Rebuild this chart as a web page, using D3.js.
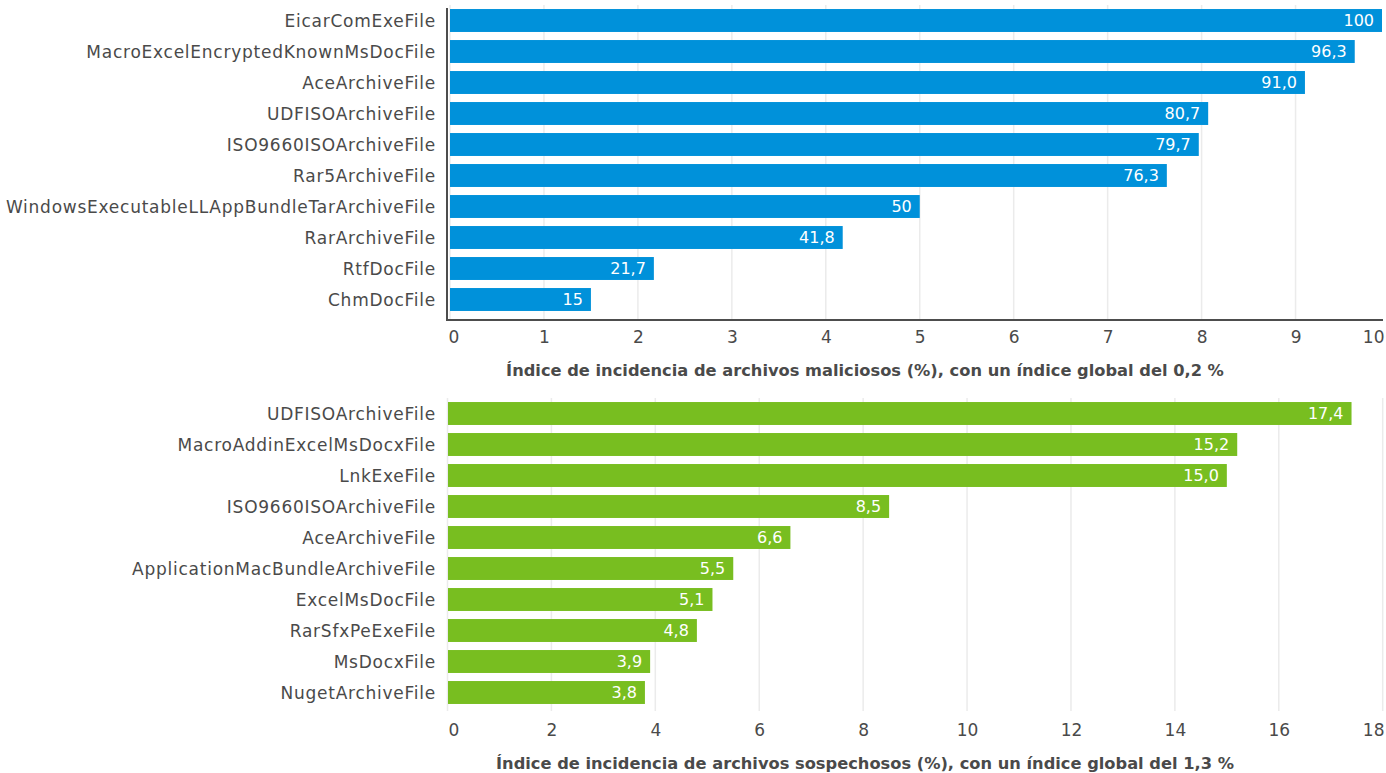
<!DOCTYPE html>
<html lang="es">
<head>
<meta charset="utf-8">
<script src="https://cdn.jsdelivr.net/npm/d3@7/dist/d3.min.js"></script>
<style>
  html, body { margin: 0; padding: 0; background: #ffffff; }
  svg { display: block; }
  svg text { font-family: "DejaVu Sans", sans-serif; }
</style>
</head>
<body>
<svg id="chart" width="1386" height="773"></svg>
<script>
// Malicious file incidence (top panel)
const maliciousCategories = [
  "EicarComExeFile", "MacroExcelEncryptedKnownMsDocFile", "AceArchiveFile",
  "UDFISOArchiveFile", "ISO9660ISOArchiveFile", "Rar5ArchiveFile",
  "WindowsExecutableLLAppBundleTarArchiveFile", "RarArchiveFile",
  "RtfDocFile", "ChmDocFile"
];
const maliciousValues = [100, 96.3, 91.0, 80.7, 79.7, 76.3, 50, 41.8, 21.7, 15];
const maliciousLabels = ["100", "96,3", "91,0", "80,7", "79,7", "76,3", "50", "41,8", "21,7", "15"];
const maliciousTicks = [0, 10, 20, 30, 40, 50, 60, 70, 80, 90, 100];
const maliciousTickLabels = ["0", "1", "2", "3", "4", "5", "6", "7", "8", "9", "10"];
const maliciousTitle = "Índice de incidencia de archivos maliciosos (%), con un índice global del 0,2 %";

// Suspicious file incidence (bottom panel)
const suspiciousCategories = [
  "UDFISOArchiveFile", "MacroAddinExcelMsDocxFile", "LnkExeFile",
  "ISO9660ISOArchiveFile", "AceArchiveFile", "ApplicationMacBundleArchiveFile",
  "ExcelMsDocFile", "RarSfxPeExeFile", "MsDocxFile", "NugetArchiveFile"
];
const suspiciousValues = [17.4, 15.2, 15.0, 8.5, 6.6, 5.5, 5.1, 4.8, 3.9, 3.8];
const suspiciousLabels = ["17,4", "15,2", "15,0", "8,5", "6,6", "5,5", "5,1", "4,8", "3,9", "3,8"];
const suspiciousTicks = [0, 2, 4, 6, 8, 10, 12, 14, 16, 18];
const suspiciousTickLabels = ["0", "2", "4", "6", "8", "10", "12", "14", "16", "18"];
const suspiciousTitle = "Índice de incidencia de archivos sospechosos (%), con un índice global del 1,3 %";

const svg = d3.select("#chart");
const TEXT = "#4a4a4a";
const FONT = "DejaVu Sans, sans-serif";
const FONT_SIZE = 16;
const CAT_SIZE = 17;
const TITLE_SIZE = 16.25;
const SVG_W = 1386;

function drawPanel(cfg) {
  const g = svg.append("g");
  const x = d3.scaleLinear().domain(cfg.domain).range(cfg.xRange);
  const y = d3.scaleBand().domain(cfg.categories).range(cfg.yRange).paddingInner(0.26).paddingOuter(0.13);
  const plotLeft = cfg.plotLeft, plotRight = cfg.plotRight;

  const clipId = "clip-" + cfg.id;
  svg.append("defs").append("clipPath").attr("id", clipId)
    .append("rect").attr("x", plotLeft).attr("y", cfg.gridTop)
    .attr("width", plotRight - plotLeft).attr("height", cfg.gridBottom - cfg.gridTop);

  // vertical gridlines
  g.append("g").selectAll("line").data(cfg.ticks).join("line")
    .attr("x1", d => x(d)).attr("x2", d => x(d))
    .attr("y1", cfg.gridTop).attr("y2", cfg.gridBottom)
    .attr("stroke", "#ebebeb").attr("stroke-width", 1.5);

  // bars
  const bars = g.append("g").attr("clip-path", `url(#${clipId})`);
  bars.selectAll("rect").data(cfg.values).join("rect")
    .attr("x", x(0))
    .attr("y", (d, i) => y(cfg.categories[i]))
    .attr("width", d => x(d) - x(0))
    .attr("height", y.bandwidth())
    .attr("fill", cfg.color);

  // value labels inside bar ends
  g.append("g").attr("font-family", FONT).selectAll("text").data(cfg.values).join("text")
    .attr("x", d => Math.min(x(d), plotRight) - 8)
    .attr("y", (d, i) => y(cfg.categories[i]) + y.bandwidth() / 2)
    .attr("dy", "0.36em")
    .attr("text-anchor", "end")
    .attr("fill", "#ffffff")
    .attr("font-size", FONT_SIZE)
    .text((d, i) => cfg.labels[i]);

  // category labels
  const yAxis = d3.axisLeft(y).tickSize(0).tickPadding(12);
  const ya = g.append("g").attr("transform", `translate(${plotLeft},0)`).call(yAxis)
    .attr("font-family", FONT).attr("font-size", CAT_SIZE);
  ya.select(".domain").remove();
  ya.selectAll("text").attr("fill", TEXT).attr("dy", "0.36em")
    .attr("letter-spacing", "0.75px");

  // x tick labels
  const xAxis = d3.axisBottom(x).tickValues(cfg.ticks).tickSize(0).tickPadding(0)
    .tickFormat((d, i) => cfg.tickLabels[i]);
  const xa = g.append("g").attr("transform", `translate(0,${cfg.tickY})`).call(xAxis)
    .attr("font-family", FONT).attr("font-size", FONT_SIZE + 1);
  xa.select(".domain").remove();
  xa.selectAll("text").attr("fill", TEXT).attr("dy", 0);
  // keep tick labels within the plot's horizontal extent
  xa.selectAll("text").each(function () {
    const t = d3.select(this);
    const b = this.getBBox();
    const tx = x(d3.select(this.parentNode).datum());
    const left = tx + b.x, right = tx + b.x + b.width;
    if (right > SVG_W - 2) t.attr("x", SVG_W - 2 - right);
    else if (left < plotLeft) t.attr("x", plotLeft - left);
  });

  // axis lines
  if (cfg.axisLines) {
    g.append("line").attr("x1", plotLeft - 1).attr("x2", plotLeft - 1)
      .attr("y1", cfg.gridTop + 3).attr("y2", cfg.gridBottom + 1)
      .attr("stroke", "#4d4d4d").attr("stroke-width", 2);
    g.append("line").attr("x1", plotLeft - 2).attr("x2", plotRight + 1)
      .attr("y1", cfg.gridBottom).attr("y2", cfg.gridBottom)
      .attr("stroke", "#4d4d4d").attr("stroke-width", 2);
  }

  // axis title
  g.append("text").attr("x", cfg.titleX).attr("y", cfg.titleY)
    .attr("text-anchor", "middle").attr("font-weight", "bold")
    .attr("font-family", FONT)
    .attr("font-size", TITLE_SIZE).attr("fill", TEXT)
    .text(cfg.title);
}

drawPanel({
  id: "mal", categories: maliciousCategories, values: maliciousValues, labels: maliciousLabels,
  ticks: maliciousTicks, tickLabels: maliciousTickLabels, title: maliciousTitle,
  domain: [0, 100], xRange: [450, 1389.5], plotLeft: 448, plotRight: 1382,
  yRange: [5, 315], gridTop: 5, gridBottom: 320, tickY: 342.5,
  color: "#0091da", axisLines: true, titleX: 865, titleY: 376
});

drawPanel({
  id: "sus", categories: suspiciousCategories, values: suspiciousValues, labels: suspiciousLabels,
  ticks: suspiciousTicks, tickLabels: suspiciousTickLabels, title: suspiciousTitle,
  domain: [0, 18], xRange: [447.5, 1382.7], plotLeft: 448, plotRight: 1384,
  yRange: [398, 708], gridTop: 398, gridBottom: 711, tickY: 735.5,
  color: "#78be20", axisLines: false, titleX: 865, titleY: 769
});
</script>
</body>
</html>
